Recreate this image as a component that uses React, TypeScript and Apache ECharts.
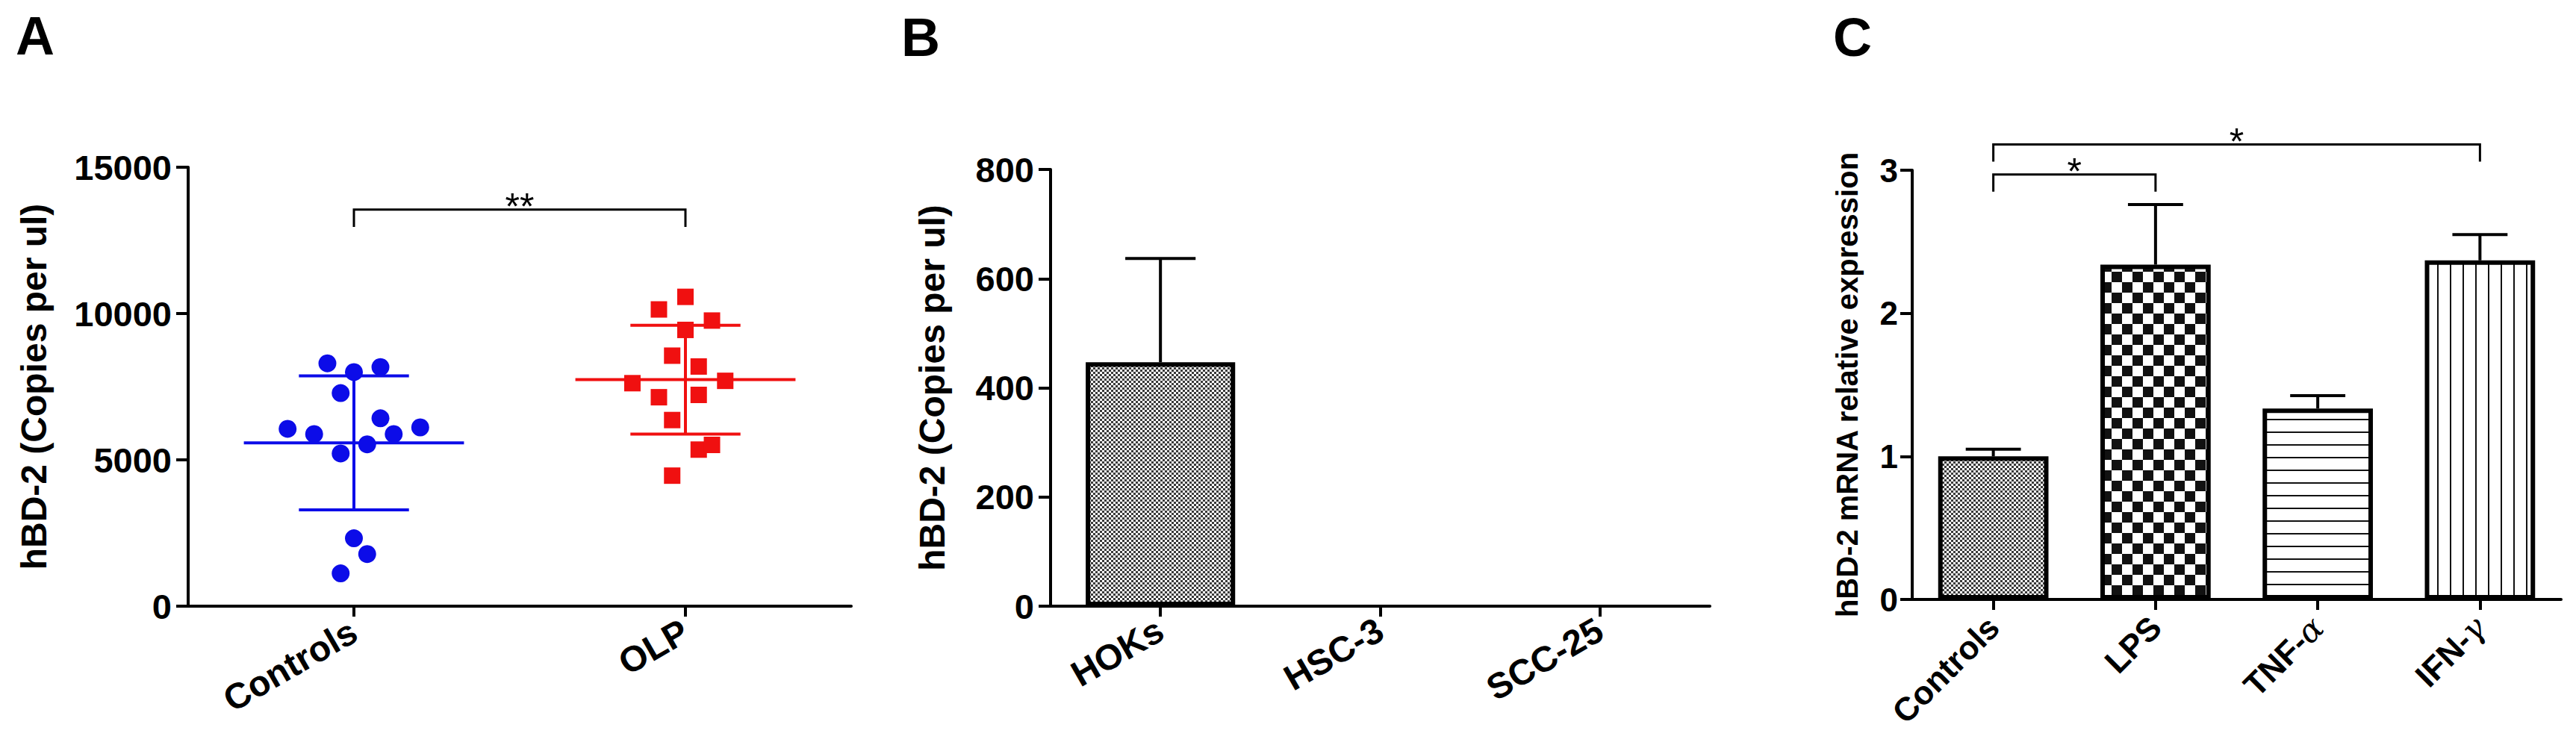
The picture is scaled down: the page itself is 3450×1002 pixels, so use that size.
import React, { useEffect, useRef } from "react";
import * as echarts from "echarts";

// ---------- Panel A : scatter with mean ± SD ----------
const groupsA = ["Controls", "OLP"];
const controlsValues = [8300, 8000, 8170, 7280, 6060, 5880, 6420, 5880, 6110, 5530, 5220, 2320, 1780, 1120];
const controlsJitter = [-0.08, 0, 0.08, -0.04, -0.2, -0.12, 0.08, 0.12, 0.2, 0.04, -0.04, 0, 0.04, -0.04];
const olpValues = [10570, 10140, 9760, 9440, 8560, 8190, 7620, 7700, 7140, 7220, 6360, 5350, 5510, 4460];
const olpJitter = [0, -0.08, 0.08, 0, -0.04, 0.04, -0.16, 0.12, -0.08, 0.04, -0.04, 0.04, 0.08, -0.04];
const meanA = [5580, 7740];
const sdA = [2290, 1860];
const colorsA = ["#0c0ce8", "#f01010"];
const bracketA = [[1, 2, 13550, 12960]];
const bracketALabels = ["**"];

// ---------- Panel B : bar ----------
const cellLines = ["HOKs", "HSC-3", "SCC-25"];
const copiesMean = [447, 0, 0];
const copiesSD = [190, 0, 0];

// ---------- Panel C : bar with patterns ----------
const treatments = ["Controls", "LPS", "TNF-α", "IFN-γ"];
const relExpr = [1.0, 2.34, 1.335, 2.37];
const relErr = [0.05, 0.42, 0.09, 0.18];
const patternsC = ["fine", "checker", "hlines", "vlines"];
const bracketC = [
  [0, 1, 2.97, 2.85],
  [0, 3, 3.18, 3.06],
];
const bracketCLabels = ["*", "*"];

const FONT = "Liberation Sans";

function makePattern(kind: string) {
  const c = document.createElement("canvas");
  let w = 6, h = 6;
  if (kind === "checker") { w = 28; h = 28; }
  else if (kind === "hlines") { w = 8; h = 17; }
  else if (kind === "vlines") { w = 17; h = 8; }
  c.width = w; c.height = h;
  const ctx = c.getContext("2d")!;
  ctx.fillStyle = "#ffffff";
  ctx.fillRect(0, 0, w, h);
  if (kind === "fine") {
    ctx.fillStyle = "#3a3a3a";
    ctx.fillRect(0, 0, 3, 3); ctx.fillRect(3, 3, 3, 3);
  } else {
    ctx.fillStyle = "#111111";
    if (kind === "checker") { ctx.fillRect(0, 0, 14, 14); ctx.fillRect(14, 14, 14, 14); }
    else if (kind === "hlines") { ctx.fillRect(0, 0, w, 2); }
    else { ctx.fillRect(0, 0, 2, h); }
  }
  return { image: c, repeat: "repeat", imageWidth: w, imageHeight: h };
}

const axisText = { color: "#000", fontWeight: "bold" as const, fontFamily: FONT };

function yAxisCfg(grid: number, max: number, interval: number, name: string, nameGap: number, labelSize: number, nameSize: number, margin: number) {
  return {
    gridIndex: grid, type: "value", min: 0, max, interval,
    axisLine: { show: true, lineStyle: { color: "#000", width: 4 } },
    axisTick: { show: true, length: 16, lineStyle: { color: "#000", width: 4 } },
    axisLabel: { ...axisText, fontSize: labelSize, margin, formatter: (v: number) => String(v) },
    splitLine: { show: false },
    name, nameLocation: "middle", nameGap,
    nameTextStyle: { ...axisText, fontSize: nameSize },
  };
}

function xCatCfg(grid: number, data: string[], rotate: number, size: number, margin: number, extra: any = {}) {
  return {
    gridIndex: grid, type: "category", data, boundaryGap: true,
    axisLine: { show: true, onZero: true, lineStyle: { color: "#000", width: 4 } },
    axisTick: { show: true, alignWithLabel: true, length: 14, lineStyle: { color: "#000", width: 4 } },
    axisLabel: { ...axisText, fontSize: size, rotate, margin, interval: 0, ...extra },
    splitLine: { show: false },
  };
}

const bracketRender = (labels: string[], fs: number) => (params: any, api: any) => {
  const x1 = api.value(0), x2 = api.value(1), yl = api.value(2), yd = api.value(3);
  const a = api.coord([x1, yl]);
  const b = api.coord([x2, yl]);
  const ad = api.coord([x1, yd]);
  const bd = api.coord([x2, yd]);
  const ty = a[1] - 15 + 0.23 * fs;
  return {
    type: "group",
    children: [
      { type: "polyline", shape: { points: [ad, a, b, bd] }, style: { stroke: "#000", lineWidth: 3, fill: null } },
      {
        type: "text", x: (a[0] + b[0]) / 2, y: ty,
        style: { text: labels[params.dataIndex], fill: "#000", font: `${fs}px "${FONT}"`, align: "center", verticalAlign: "middle", textAlign: "center", textVerticalAlign: "middle" },
      },
    ],
  };
};

const errorBarRender = (capFrac: number) => (params: any, api: any) => {
  const idx = api.value(0);
  const p0 = api.coord([idx, api.value(1)]);
  const p1 = api.coord([idx, api.value(2)]);
  const band = api.size([1, 0])[0];
  const half = (band * capFrac) / 2;
  return {
    type: "group",
    children: [
      { type: "line", shape: { x1: p0[0], y1: p0[1], x2: p1[0], y2: p1[1] }, style: { stroke: "#000", lineWidth: 4 } },
      { type: "line", shape: { x1: p1[0] - half, y1: p1[1], x2: p1[0] + half, y2: p1[1] }, style: { stroke: "#000", lineWidth: 4 } },
    ],
  };
};

const sdRender = (params: any, api: any) => {
  const x = api.value(0);
  const m = api.coord([x, api.value(1)]);
  const lo = api.coord([x, api.value(2)]);
  const hi = api.coord([x, api.value(3)]);
  const unit = api.size([1, 0])[0];
  const mh = unit * 0.332;
  const ch = unit * 0.166;
  const col = colorsA[params.dataIndex];
  const st = { stroke: col, lineWidth: 4 };
  return {
    type: "group",
    children: [
      { type: "line", shape: { x1: lo[0], y1: lo[1], x2: hi[0], y2: hi[1] }, style: st },
      { type: "line", shape: { x1: m[0] - mh, y1: m[1], x2: m[0] + mh, y2: m[1] }, style: st },
      { type: "line", shape: { x1: hi[0] - ch, y1: hi[1], x2: hi[0] + ch, y2: hi[1] }, style: st },
      { type: "line", shape: { x1: lo[0] - ch, y1: lo[1], x2: lo[0] + ch, y2: lo[1] }, style: st },
    ],
  };
};

export default function App() {
  const ref = useRef<HTMLDivElement>(null);
  useEffect(() => {
    if (!ref.current) return;
    const chart = echarts.init(ref.current, null, { renderer: "svg" });
    const greek = (v: string) => v.replace("α", "{g|α}").replace("γ", "{g|γ}");
    const option: any = {
      animation: false,
      backgroundColor: "#ffffff",
      grid: [
        { left: 252, top: 224, width: 888, height: 588 },
        { left: 1407, top: 227, width: 883, height: 585 },
        { left: 2561, top: 228, width: 869, height: 575 },
      ],
      xAxis: [
        xCatCfg(0, groupsA, 30, 48, 30),
        { gridIndex: 0, type: "value", min: 0.5, max: 2.5, show: false },
        xCatCfg(1, cellLines, 30, 48, 28),
        xCatCfg(2, treatments, 45, 44, 30, {
          formatter: greek,
          rich: { g: { fontFamily: "DejaVu Serif", fontStyle: "italic", fontWeight: "normal", fontSize: 44, color: "#000" } },
        }),
      ],
      yAxis: [
        yAxisCfg(0, 15000, 5000, "hBD-2 (Copies per ul)", 183, 47, 48, 22),
        yAxisCfg(1, 800, 200, "hBD-2 (Copies per ul)", 135, 47, 48, 22),
        yAxisCfg(2, 3, 1, "hBD-2 mRNA relative expression", 67, 44, 40, 19),
      ],
      graphic: [
        { type: "text", left: 21, top: 12, style: { text: "A", font: `bold 72px "${FONT}"`, fill: "#000" } },
        { type: "text", left: 1207, top: 14, style: { text: "B", font: `bold 72px "${FONT}"`, fill: "#000" } },
        { type: "text", left: 2455, top: 14, style: { text: "C", font: `bold 72px "${FONT}"`, fill: "#000" } },
      ],
      series: [
        {
          type: "scatter", xAxisIndex: 1, yAxisIndex: 0, symbol: "circle", symbolSize: 24,
          itemStyle: { color: colorsA[0], opacity: 1 },
          data: controlsValues.map((v, i) => [1 + controlsJitter[i], v]),
        },
        {
          type: "scatter", xAxisIndex: 1, yAxisIndex: 0, symbol: "rect", symbolSize: 22,
          itemStyle: { color: colorsA[1], opacity: 1 },
          data: olpValues.map((v, i) => [2 + olpJitter[i], v]),
        },
        {
          type: "custom", xAxisIndex: 1, yAxisIndex: 0, renderItem: sdRender, z: 5,
          data: meanA.map((m, i) => [i + 1, m, m - sdA[i], m + sdA[i]]),
        },
        {
          type: "custom", xAxisIndex: 1, yAxisIndex: 0, renderItem: bracketRender(bracketALabels, 50), z: 5,
          data: bracketA,
        },
        {
          type: "bar", xAxisIndex: 2, yAxisIndex: 1, barWidth: "68%",
          data: copiesMean.map((v) => ({
            value: v,
            itemStyle: { color: makePattern("fine"), borderColor: "#000", borderWidth: v > 0 ? 6 : 0 },
          })),
        },
        {
          type: "custom", xAxisIndex: 2, yAxisIndex: 1, renderItem: errorBarRender(0.32), z: 5,
          data: copiesMean.map((m, i) => [i, m, m + copiesSD[i]]).filter((d) => d[2] > d[1]),
        },
        {
          type: "bar", xAxisIndex: 3, yAxisIndex: 2, barWidth: "68%",
          data: relExpr.map((v, i) => ({
            value: v,
            itemStyle: { color: makePattern(patternsC[i]), borderColor: "#000", borderWidth: 6 },
          })),
        },
        {
          type: "custom", xAxisIndex: 3, yAxisIndex: 2, renderItem: errorBarRender(0.34), z: 5,
          data: relExpr.map((m, i) => [i, m, m + relErr[i]]),
        },
        {
          type: "custom", xAxisIndex: 3, yAxisIndex: 2, renderItem: bracketRender(bracketCLabels, 50), z: 5,
          data: bracketC,
        },
      ],
    };
    chart.setOption(option);
    return () => chart.dispose();
  }, []);
  return (
    <div
      ref={ref}
      style={{ position: "absolute", left: 0, top: 0, width: 3450, height: 1002, background: "#fff" }}
    />
  );
}
